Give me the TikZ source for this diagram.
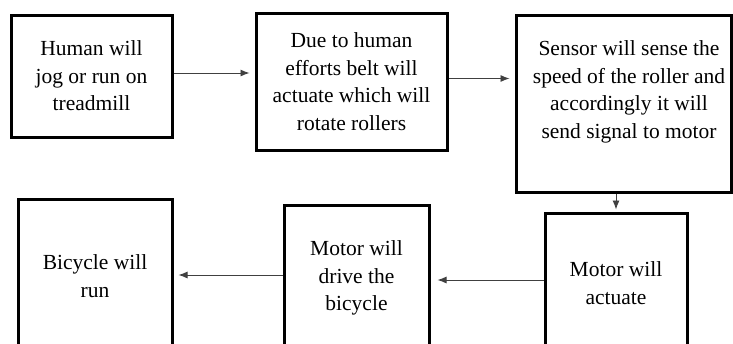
\documentclass[tikz,border=0pt]{standalone}
\usepackage{fontspec}
\setmainfont{Liberation Serif}
\usetikzlibrary{arrows.meta}

\begin{document}
\begin{tikzpicture}[x=1pt,y=-1pt,
  box/.style={draw=black,line width=3pt,align=center,inner sep=0pt,font=\fontsize{21.5}{27.5}\selectfont},
  boxtext/.style={align=center,inner sep=0pt,font=\fontsize{21.5}{27.5}\selectfont},
  link/.style={-{Latex[length=9pt,width=7pt]},draw=black!75,line width=0.9pt,shorten >=5pt}]
\clip (0,0) rectangle (733,343);
%top row
\node[box,minimum width=161pt,minimum height=122pt] at (91.5,76) (Box1) {Human will\\jog or run on\\treadmill};
\node[box,minimum width=191pt,minimum height=137pt] at (351.5,81.5) (Box2) {Due to human\\efforts belt will\\actuate which will\\rotate rollers};
\node[box,minimum width=215pt,minimum height=177pt] at (623.5,103.5) (Box3) {};
\node[boxtext] at (629,92) (Box3text) {Sensor will sense the\\speed of the roller and\\accordingly it will\\send signal to motor};
%bottom row
\node[box,minimum width=142pt,minimum height=140pt] at (616,283) (Box4) {Motor will\\actuate};
\node[box,minimum width=145pt,minimum height=146pt] at (356.5,278) (Box5) {Motor will\\drive the\\bicycle};
\node[box,minimum width=154pt,minimum height=154pt] at (95,276) (Box6) {Bicycle will\\run};
\draw[link] ([yshift=3pt]Box1.east) -- ([yshift=3pt]Box1.east -| Box2.west);
\draw[link] ([yshift=3pt]Box2.east) -- ([yshift=3pt]Box2.east -| Box3.west);
\draw[link,shorten >=2pt] (Box3.south -| Box4.north) -- (Box4.north);
\draw[link,shorten >=7pt] ([yshift=3pt]Box4.west) -- ([yshift=3pt]Box4.west -| Box5.east);
\draw[link] ([yshift=3pt]Box5.west) -- ([yshift=3pt]Box5.west -| Box6.east);
\end{tikzpicture}
\end{document}
